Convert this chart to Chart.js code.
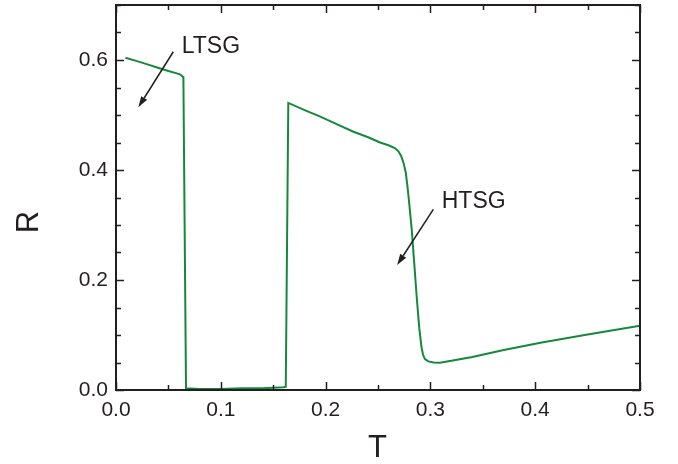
<!DOCTYPE html>
<html>
<head>
<meta charset="utf-8">
<script src="https://cdn.jsdelivr.net/npm/chart.js@4.4.0/dist/chart.umd.min.js"></script>
<style>
    html, body { margin: 0; padding: 0; background: #fff; }
    #wrap { width: 678px; height: 464px; }
</style>
</head>
<body>
<div id="wrap"><canvas id="chart" width="678" height="464"></canvas></div>
<script>
// T values (x) and R values (y)
const temps = [0.009, 0.02, 0.03, 0.04, 0.05, 0.058, 0.0615, 0.0636, 0.0643, 0.0668,
    0.08, 0.1, 0.12, 0.14, 0.16, 0.162, 0.1644, 0.18, 0.195, 0.21, 0.226, 0.24, 0.252,
    0.26, 0.266, 0.2695, 0.2722, 0.2745, 0.2765, 0.278, 0.2795, 0.2822, 0.2846, 0.2869,
    0.2894, 0.2915, 0.293, 0.2948, 0.298, 0.303, 0.309, 0.32, 0.34, 0.37, 0.405, 0.45, 0.5];
const ratio = [0.604, 0.598, 0.592, 0.586, 0.580, 0.5757, 0.5735, 0.5697, 0.569, 0.003,
    0.002, 0.002, 0.003, 0.003, 0.005, 0.006, 0.522, 0.509, 0.497, 0.484, 0.470, 0.460, 0.450,
    0.445, 0.440, 0.434, 0.425, 0.412, 0.395, 0.372, 0.345, 0.291, 0.230, 0.170,
    0.112, 0.078, 0.064, 0.056, 0.052, 0.050, 0.0497, 0.053, 0.060, 0.0727, 0.086, 0.101, 0.117];

const xTickValues = [0, 0.1, 0.2, 0.3, 0.4, 0.5];
const yTickValues = [0, 0.2, 0.4, 0.6];
const xMinorStep = 0.05;
const yMinorStep = 0.05;

// labels with arrows, in data units
const notes = [
    { text: 'LTSG', x: 0.0627, y: 0.624, from: [0.0547, 0.615], to: [0.0213, 0.514] },
    { text: 'HTSG', x: 0.3108, y: 0.3424, from: [0.3028, 0.3285], to: [0.2683, 0.2273] }
];

const FONT = '"Liberation Sans", Arial, Helvetica, sans-serif';
const INK = '#231f20';

const framePlugin = {
    id: 'frame',
    afterDraw(chart) {
        const { ctx, chartArea: a, scales } = chart;
        const xs = scales.x, ys = scales.y;
        ctx.save();
        ctx.strokeStyle = INK;
        ctx.lineWidth = 2;
        ctx.strokeRect(a.left, a.top, a.right - a.left, a.bottom - a.top);

        // inward ticks on all four sides
        ctx.lineWidth = 1.5;
        ctx.beginPath();
        for (let v = 0; v <= xs.max + 1e-9; v += xMinorStep) {
            const major = xTickValues.some(t => Math.abs(t - v) < 1e-6);
            const len = major ? 8 : 5;
            const px = Math.round(xs.getPixelForValue(v)) + 0.5;
            ctx.moveTo(px, a.bottom); ctx.lineTo(px, a.bottom - len);
            ctx.moveTo(px, a.top); ctx.lineTo(px, a.top + len);
        }
        for (let v = 0; v <= ys.max + 1e-9; v += yMinorStep) {
            const major = yTickValues.some(t => Math.abs(t - v) < 1e-6);
            const len = major ? 8 : 5;
            const py = Math.round(ys.getPixelForValue(v)) + 0.5;
            ctx.moveTo(a.left, py); ctx.lineTo(a.left + len, py);
            ctx.moveTo(a.right, py); ctx.lineTo(a.right - len, py);
        }
        ctx.stroke();

        // annotations
        ctx.fillStyle = INK;
        ctx.strokeStyle = INK;
        notes.forEach(n => {
            const x1 = xs.getPixelForValue(n.from[0]), y1 = ys.getPixelForValue(n.from[1]);
            const x2 = xs.getPixelForValue(n.to[0]), y2 = ys.getPixelForValue(n.to[1]);
            const ang = Math.atan2(y2 - y1, x2 - x1);
            const head = 11, half = 3.5;
            const bx = x2 - head * Math.cos(ang), by = y2 - head * Math.sin(ang);
            ctx.lineWidth = 1.5;
            ctx.beginPath();
            ctx.moveTo(x1, y1); ctx.lineTo(bx, by);
            ctx.stroke();
            ctx.beginPath();
            ctx.moveTo(x2, y2);
            ctx.lineTo(bx + half * Math.sin(ang), by - half * Math.cos(ang));
            ctx.lineTo(bx - half * Math.sin(ang), by + half * Math.cos(ang));
            ctx.closePath();
            ctx.fill();

            ctx.font = '23px ' + FONT;
            ctx.textAlign = 'left';
            ctx.textBaseline = 'middle';
            ctx.fillText(n.text, xs.getPixelForValue(n.x), ys.getPixelForValue(n.y));
        });

        // axis titles
        ctx.font = '31px ' + FONT;
        ctx.textAlign = 'center';
        ctx.textBaseline = 'middle';
        ctx.fillText('T', 377.5, 448);
        ctx.save();
        ctx.translate(29, 222);
        ctx.rotate(-Math.PI / 2);
        ctx.fillText('R', 0, 0);
        ctx.restore();
        ctx.restore();
    }
};

const chart = new Chart(document.getElementById('chart'), {
    type: 'line',
    data: {
        datasets: [{
            data: temps.map((t, i) => ({ x: t, y: ratio[i] })),
            borderColor: '#15893a',
            borderWidth: 2,
            pointRadius: 0,
            tension: 0,
            fill: false
        }]
    },
    options: {
        responsive: false,
        animation: false,
        layout: { padding: { left: 0, top: 5, right: 38, bottom: 0 } },
        plugins: { legend: { display: false }, tooltip: { enabled: false } },
        scales: {
            x: {
                type: 'linear',
                min: 0,
                max: 0.5,
                grid: { display: false, drawTicks: false },
                border: { display: false },
                afterBuildTicks: s => { s.ticks = xTickValues.map(v => ({ value: v })); },
                afterFit: s => { s.height = 74; s.paddingLeft = 0; s.paddingRight = 0; },
                ticks: {
                    padding: 8,
                    color: INK,
                    font: { family: FONT, size: 21 },
                    callback: v => Number(v).toFixed(1)
                }
            },
            y: {
                type: 'linear',
                min: 0,
                max: 0.7,
                grid: { display: false, drawTicks: false },
                border: { display: false },
                afterBuildTicks: s => { s.ticks = yTickValues.map(v => ({ value: v })); },
                afterFit: s => { s.width = 116; s.paddingTop = 0; s.paddingBottom = 0; },
                ticks: {
                    padding: 8,
                    color: INK,
                    font: { family: FONT, size: 21 },
                    callback: v => Number(v).toFixed(1)
                }
            }
        }
    },
    plugins: [framePlugin]
});
</script>
</body>
</html>
